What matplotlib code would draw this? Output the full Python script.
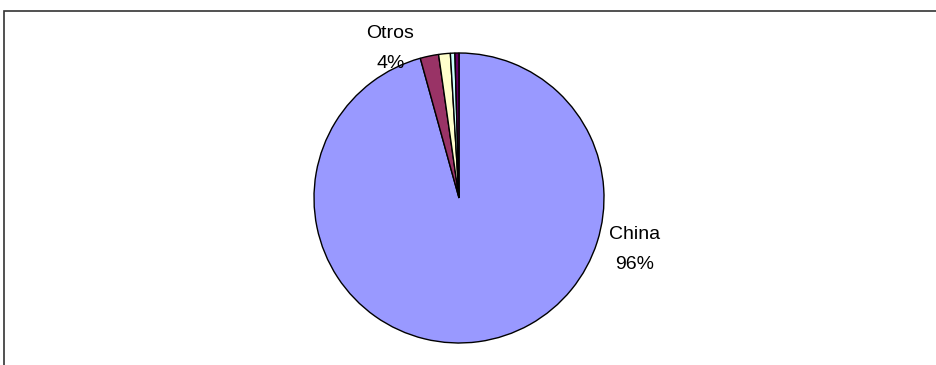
import matplotlib
matplotlib.use("Agg")
import matplotlib.pyplot as plt
from matplotlib.patches import Rectangle

plt.rcParams['font.family'] = ['Liberation Sans', 'DejaVu Sans']

# share by origin (%), China first, then the small slices grouped as "Otros"
slice_names = ['China', 'Otros 1', 'Otros 2', 'Otros 3', 'Otros 4']
shares = [95.7, 2.05, 1.3, 0.5, 0.45]
colours = ['#9999FF', '#993366', '#FFFFCC', '#CCFFFF', '#660066']

# label lines, one text per line (name, percent)
label_names = ['China', 'Otros']
label_pcts = ['96%', '4%']
# baseline positions in pie-radius units
name_pos = [(1.214, -0.283), (-0.476, 1.103)]
pct_pos = [(1.214, -0.490), (-0.469, 0.897)]

W, H = 936, 365
fig = plt.figure(figsize=(W / 100, H / 100), dpi=100)

# outer chart frame (left and top edges visible, rest runs off the picture)
frame = Rectangle((4 / W, -0.1), 1.2, (H - 11) / H + 0.1, transform=fig.transFigure,
                  fill=False, edgecolor='#333333', linewidth=1.2, clip_on=False)
fig.patches.append(frame)

ax = fig.add_axes([314 / W, 22 / H, 290 / W, 290 / H])
ax.pie(shares, colors=colours, startangle=90, counterclock=False, radius=1,
       wedgeprops=dict(edgecolor='black', linewidth=1.0))
ax.set_xlim(-1, 1)
ax.set_ylim(-1, 1)
ax.set_aspect('equal')
ax.axis('off')

for name, pct, (nx, ny), (px, py) in zip(label_names, label_pcts, name_pos, pct_pos):
    ax.text(nx, ny, name, ha='center', va='baseline', fontsize=14, color='black')
    ax.text(px, py, pct, ha='center', va='baseline', fontsize=14, color='black')

fig.savefig('out.png', dpi=100)
